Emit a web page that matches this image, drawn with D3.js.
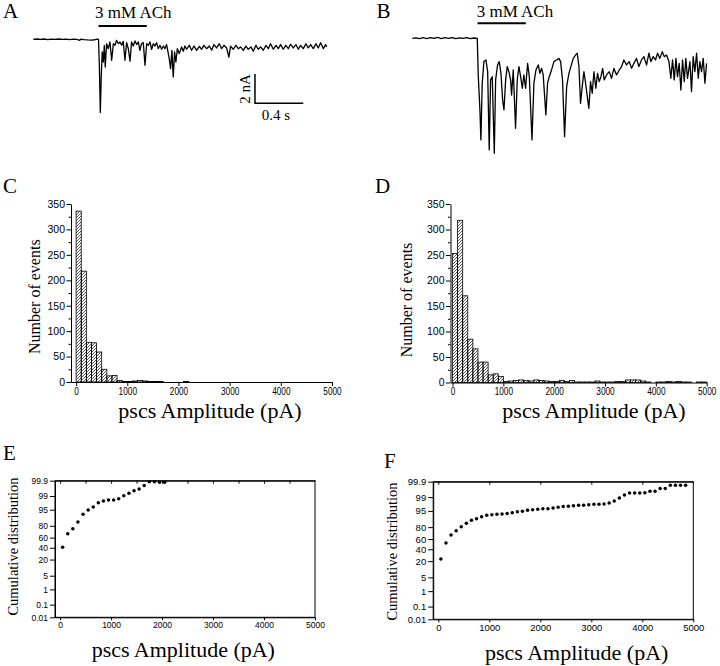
<!DOCTYPE html>
<html><head><meta charset="utf-8">
<script src="https://cdn.jsdelivr.net/npm/d3@7"></script>
<style>
body{margin:0;background:#fff;}
svg{display:block;}
</style></head>
<body><svg id="fig" width="720" height="666"></svg>
<script>
// ---------- DATA ----------
// Whole-cell current traces: [time (s), current (nA)]
const traceA = [[0,0],[0.03,0.02],[0.06,-0.01],[0.09,0.02],[0.12,-0.02],[0.15,0.01],[0.18,-0.01],[0.21,0.02],[0.24,-0.01],[0.27,0.01],[0.3,-0.02],[0.33,0.01],[0.36,-0.01],[0.385,-0.08],[0.39,0.01],[0.42,-0.02],[0.45,-0.04],[0.48,-0.05],[0.51,-0.03],[0.53,0.02],[0.54,0.0],
[0.547,-1.77],[0.555,-5.0],[0.563,-2.46],[0.571,-0.86],[0.58,-1.55],[0.588,-0.41],[0.596,-1.89],[0.607,-0.3],[0.621,-0.64],[0.635,-0.18],[0.649,-1.43],[0.663,-0.3],[0.676,-0.41],[0.69,-0.07],[0.704,-0.3],[0.718,-0.18],[0.732,-0.41],[0.745,-0.14],[0.759,-1.43],[0.773,-0.23],[0.787,-0.64],[0.801,-1.5],[0.814,-0.18],[0.828,-0.46],[0.842,-0.11],[0.856,-0.36],[0.87,-0.18],[0.883,-0.75],[0.897,-0.3],[0.911,-0.23],[0.925,-1.77],[0.939,-0.3],[0.952,-0.41],[0.966,-0.18],[0.98,-0.68],[0.994,-0.3],[1.008,-0.46],[1.021,-0.23],[1.035,-0.64],[1.049,-0.41],[1.063,-0.68],[1.077,-0.46],[1.09,-0.64],[1.104,-0.36],[1.126,-1.32],[1.137,-2.0],[1.148,-0.75],[1.159,-2.57],[1.17,-0.86],[1.181,-1.55],[1.193,-0.64],[1.209,-0.98],[1.228,-0.52],[1.242,-0.82],[1.256,-0.46],[1.27,-0.68],[1.292,-0.41],[1.311,-0.75],[1.331,-0.46],[1.353,-0.75],[1.375,-0.48],[1.394,-0.68],[1.413,-0.41],[1.435,-0.64],[1.458,-0.46],[1.477,-0.75],[1.496,-0.36],[1.518,-0.59],[1.54,-0.3],[1.56,-0.64],[1.579,-0.41],[1.601,-0.59],[1.62,-1.21],[1.634,-0.46],[1.656,-0.68],[1.678,-0.41],[1.698,-0.64],[1.717,-0.52],[1.739,-0.75],[1.761,-0.46],[1.78,-0.68],[1.803,-0.52],[1.822,-0.82],[1.844,-0.41],[1.863,-0.68],[1.883,-0.52],[1.905,-0.75],[1.927,-0.41],[1.946,-0.64],[1.965,-0.3],[1.988,-0.68],[2.01,-0.41],[2.029,-0.64],[2.048,-0.36],[2.07,-0.68],[2.092,-0.41],[2.112,-0.64],[2.131,-0.34],[2.153,-0.59],[2.175,-0.36],[2.195,-0.68],[2.214,-0.41],[2.236,-0.64],[2.258,-0.3],[2.277,-0.59],[2.297,-0.36],[2.319,-0.64],[2.341,-0.3],[2.36,-0.59],[2.38,-0.23],[2.402,-0.64],[2.421,-0.36],[2.429,-0.52]];

const traceB = [[0,0],[0.03,0.03],[0.06,-0.02],[0.09,0.04],[0.12,-0.02],[0.15,0.05],[0.18,-0.01],[0.21,0.06],[0.24,-0.02],[0.27,0.04],[0.3,-0.01],[0.33,0.05],[0.36,-0.02],[0.39,0.03],[0.42,-0.01],[0.45,0.04],[0.48,-0.02],[0.51,0.02],[0.538,0.0],
[0.546,-2.5],[0.56,-4.89],[0.568,-6.94],[0.579,-3.07],[0.593,-1.59],[0.61,-1.48],[0.624,-2.28],[0.637,-7.62],[0.648,-2.84],[0.662,-2.62],[0.679,-7.85],[0.69,-2.84],[0.706,-1.82],[0.72,-1.59],[0.734,-2.39],[0.748,-4.21],[0.759,-4.89],[0.773,-2.84],[0.786,-1.93],[0.8,-2.28],[0.814,-2.84],[0.822,-3.87],[0.836,-2.16],[0.855,-6.14],[0.869,-2.84],[0.883,-1.93],[0.897,-2.62],[0.911,-3.41],[0.924,-2.5],[0.938,-3.41],[0.955,-1.71],[0.969,-2.62],[0.991,-6.94],[1.007,-3.07],[1.024,-2.16],[1.043,-1.82],[1.057,-2.39],[1.071,-2.05],[1.084,-2.5],[1.106,-5.23],[1.12,-3.07],[1.134,-2.62],[1.153,-2.16],[1.173,-1.59],[1.195,-1.48],[1.214,-1.37],[1.228,-1.59],[1.244,-2.84],[1.261,-6.71],[1.278,-3.3],[1.297,-2.39],[1.313,-1.93],[1.333,-1.37],[1.352,-1.14],[1.366,-1.02],[1.38,-1.93],[1.393,-4.44],[1.407,-3.3],[1.421,-2.28],[1.435,-3.07],[1.449,-3.98],[1.462,-4.78],[1.476,-2.96],[1.49,-3.75],[1.504,-2.28],[1.52,-3.41],[1.534,-2.39],[1.548,-2.96],[1.562,-2.62],[1.576,-2.05],[1.589,-2.84],[1.609,-2.5],[1.631,-2.28],[1.65,-2.73],[1.669,-2.05],[1.691,-2.5],[1.714,-2.16],[1.733,-1.93],[1.752,-1.48],[1.774,-1.82],[1.796,-1.59],[1.816,-2.05],[1.835,-1.71],[1.857,-1.37],[1.876,-1.93],[1.898,-1.48],[1.918,-1.25],[1.94,-1.82],[1.959,-1.02],[1.976,-1.59],[1.995,-1.25],[2.014,-1.48],[2.031,-1.02],[2.05,-1.37],[2.07,-0.91],[2.086,-1.25],[2.105,-1.14],[2.125,-1.59],[2.141,-2.73],[2.155,-1.48],[2.169,-2.84],[2.183,-1.37],[2.196,-2.62],[2.21,-1.71],[2.224,-3.53],[2.238,-1.48],[2.252,-2.96],[2.265,-1.37],[2.279,-2.73],[2.299,-1.59],[2.312,-3.64],[2.326,-1.25],[2.34,-2.28],[2.354,-1.02],[2.368,-2.73],[2.381,-1.59],[2.395,-2.28],[2.409,-1.37],[2.423,-3.07],[2.437,-1.71]];

// ACh application window (s)
const achWindow = [0.54, 0.94];
// scale bar: origin time (s), origin current (nA), lengths
const scaleBarOrigin = [1.836, -4.37];
const scaleBarLen = [0.4, 2];

// Amplitude histograms: bin starts (pA), width 100 pA
const ampBins = [0,100,200,300,400,500,600,700,800,900,1000,1100,1200,1300,1400,1500,1600,1700,1800,1900,2000,2100,2200,2300,2400,2500,2600,2700,2800,2900,3000,3100,3200,3300,3400,3500,3600,3700,3800,3900,4000,4100,4200,4300,4400,4500,4600,4700,4800,4900];
const binWidth = 100;
const countsC = [336,218,78,77,59,25,12,13,3,1,1,2,3,2,1,1,1,0,0,0,0,1,0,0,0,0,0,0,0,0,0,0,0,0,0,0,0,0,0,0,0,0,0,0,0,0,0,0,0,0];
const countsD = [253,318,170,85,66,40,40,15,17,12,2,3,4,5,4,3,5,4,3,2,2,4,2,4,1,1,1,1,3,1,1,1,2,2,5,5,5,3,1,0,1,1,2,1,2,1,1,0,1,1];

// Cumulative distributions (%)
const cumAmpE = [50,150,250,350,450,550,650,750,850,950,1050,1150,1250,1350,1450,1550,1650,1750,1850,1950,2050];
const cumE = [40.9,67.3,75.7,84.9,92.2,94.8,96.2,97.7,98.1,98.33,98.33,98.58,99.04,99.31,99.52,99.63,99.78,99.88,99.88,99.87,99.87];
const cumAmpF = [50,150,250,350,450,550,650,750,850,950,1050,1150,1250,1350,1450,1550,1650,1750,1850,1950,2050,2150,2250,2350,2450,2550,2650,2750,2850,2950,3050,3150,3250,3350,3450,3550,3650,3750,3850,3950,4050,4150,4250,4350,4450,4550,4650,4750,4850];
const cumF = [23.1,52.2,67.4,74.7,80.6,84.9,88.1,89.6,91.3,92.3,92.7,93.0,93.2,93.6,94.0,94.6,94.8,95.3,95.6,95.8,96.0,96.0,96.3,96.6,96.9,97.0,97.1,97.3,97.3,97.45,97.56,97.56,97.65,97.9,98.36,98.88,99.25,99.43,99.43,99.43,99.45,99.55,99.55,99.71,99.71,99.82,99.82,99.82,99.82];

// axis tick labels
const countTicks = [0,50,100,150,200,250,300,350];
const ampTicks = [0,1000,2000,3000,4000,5000];
const probTicks = [0.01,0.1,1,5,20,40,60,80,95,99,99.9];

// ---------- helpers ----------
const SERIF = "'Liberation Serif', Tinos, 'Times New Roman', Times, 'DejaVu Serif', serif";
const SANS = "'Liberation Sans', Arimo, Arial, 'DejaVu Sans', sans-serif";
function probit(p){
  const a=[-3.969683028665376e+01,2.209460984245205e+02,-2.759285104469687e+02,1.383577518672690e+02,-3.066479806614716e+01,2.506628277459239e+00];
  const b=[-5.447609879822406e+01,1.615858368580409e+02,-1.556989798598866e+02,6.680131188771972e+01,-1.328068155288572e+01];
  const c=[-7.784894002430293e-03,-3.223964580411365e-01,-2.400758277161838e+00,-2.549732539343734e+00,4.374664141464968e+00,2.938163982698783e+00];
  const d=[7.784695709041462e-03,3.224671290700398e-01,2.445134137142996e+00,3.754408661907416e+00];
  const pl=0.02425, ph=1-pl; let q,r;
  if(p<pl){q=Math.sqrt(-2*Math.log(p));return (((((c[0]*q+c[1])*q+c[2])*q+c[3])*q+c[4])*q+c[5])/((((d[0]*q+d[1])*q+d[2])*q+d[3])*q+1);}
  if(p<=ph){q=p-0.5;r=q*q;return (((((a[0]*r+a[1])*r+a[2])*r+a[3])*r+a[4])*r+a[5])*q/(((((b[0]*r+b[1])*r+b[2])*r+b[3])*r+b[4])*r+1);}
  q=Math.sqrt(-2*Math.log(1-p));return -(((((c[0]*q+c[1])*q+c[2])*q+c[3])*q+c[4])*q+c[5])/((((d[0]*q+d[1])*q+d[2])*q+d[3])*q+1);
}

const svg = d3.select("#fig");
const defs = svg.append("defs");
defs.append("pattern").attr("id","hatch").attr("patternUnits","userSpaceOnUse")
  .attr("width",3).attr("height",3)
  .append("path").attr("d","M-0.75,0.75 L0.75,-0.75 M0,3 L3,0 M2.25,3.75 L3.75,2.25")
  .attr("stroke","#000").attr("stroke-width",0.65);

function styleAxis(g, fontSize, sx){
  g.attr("font-family", SANS);
  g.select(".domain").attr("stroke","#000").attr("stroke-width",1);
  g.selectAll(".tick line").attr("stroke","#000").attr("stroke-width",1);
  g.selectAll(".tick text").attr("fill","#000").attr("font-size",fontSize)
    .attr("font-family", SANS);
  if(sx) g.selectAll(".tick text").attr("transform",`scale(${sx},1)`);
}
function serifText(x,y,txt,size,anchor,rot){
  const t = svg.append("text").attr("font-family",SERIF).attr("fill","#000").attr("font-size",size)
    .attr("text-anchor",anchor||"start").text(txt);
  if(rot){ t.attr("transform",`translate(${x},${y}) rotate(${rot})`); }
  else t.attr("x",x).attr("y",y);
  return t;
}

// ---------- Panels A, B: traces ----------
function drawTrace(data, x, y){
  svg.append("path").datum(data)
    .attr("d", d3.line().x(d=>x(d[0])).y(d=>y(d[1])))
    .attr("fill","none").attr("stroke","#000").attr("stroke-width",1.3)
    .attr("stroke-linejoin","round");
}
const xA = d3.scaleLinear().domain([0,2.43]).range([33.3,326.7]);
const yA = d3.scaleLinear().domain([0,-5]).range([39.3,112.55]);
const xB = d3.scaleLinear().domain([0,2.437]).range([412.3,706.6]);
const yB = d3.scaleLinear().domain([0,-8]).range([38.3,155.5]);
drawTrace(traceA, xA, yA);
drawTrace(traceB, xB, yB);

// ACh bars + labels
svg.append("line").attr("x1",xA(achWindow[0])).attr("x2",xA(achWindow[1])).attr("y1",26).attr("y2",26)
  .attr("stroke","#000").attr("stroke-width",2);
svg.append("line").attr("x1",xB(achWindow[0])).attr("x2",xB(achWindow[1])).attr("y1",23.3).attr("y2",23.3)
  .attr("stroke","#000").attr("stroke-width",2);
serifText(95,17.7,"3 mM ACh",17);
serifText(476.7,16.7,"3 mM ACh",17);

// scale bar
const sb0x = xA(scaleBarOrigin[0]), sb0y = yA(scaleBarOrigin[1]);
svg.append("path")
  .attr("d",`M${sb0x},${yA(scaleBarOrigin[1]+scaleBarLen[1])} L${sb0x},${sb0y} L${xA(scaleBarOrigin[0]+scaleBarLen[0])},${sb0y}`)
  .attr("fill","none").attr("stroke","#000").attr("stroke-width",1.5);
serifText(250,89,"2 nA",15,"middle",-90);
serifText(276,120,"0.4 s",15,"middle");

// panel letters
serifText(3,17.5,"A",21);
serifText(376.5,18.3,"B",21);
serifText(3,193,"C",21);
serifText(375,193,"D",21);
serifText(3,460,"E",21);
serifText(384,468,"F",21);

// ---------- Panels C, D: histograms ----------
const fmt = d3.format("d");
function drawHist(counts, x, y, x0){
  const bars = ampBins.map((b,i)=>({b, c:counts[i]})).filter(d=>d.c>0);
  svg.append("g").selectAll("rect").data(bars).join("rect")
    .attr("x",d=>x(d.b)).attr("width",d=>x(d.b+binWidth)-x(d.b))
    .attr("y",d=>y(d.c)).attr("height",d=>y(0)-y(d.c))
    .attr("fill","url(#hatch)").attr("stroke","#000").attr("stroke-width",0.8);
  const gm = svg.append("g").attr("transform",`translate(${x0},0)`)
    .call(d3.axisLeft(y).tickValues(countTicks.slice(0,-1).map(v=>v+25)).tickSize(2.5).tickFormat(""));
  styleAxis(gm,10);
  gm.select(".domain").remove();
  const gy = svg.append("g").attr("transform",`translate(${x0},0)`)
    .call(d3.axisLeft(y).tickValues(countTicks).tickFormat(fmt).tickSize(4.5).tickSizeOuter(0).tickPadding(1.5));
  styleAxis(gy,10.5);
  const gx = svg.append("g").attr("transform",`translate(0,${y(0)})`)
    .call(d3.axisBottom(x).tickValues(ampTicks).tickFormat(fmt).tickSize(4).tickSizeOuter(0).tickPadding(1));
  styleAxis(gx,11,0.75);
}
const xC = d3.scaleLinear().domain([-100,5000]).range([71,332]);
const yC = d3.scaleLinear().domain([0,350]).range([382,204]);
drawHist(countsC, xC, yC, 71);
const xD = d3.scaleLinear().domain([-40,5000]).range([450.5,706.7]);
const yD = d3.scaleLinear().domain([0,350]).range([382.5,204]);
drawHist(countsD, xD, yD, 450.5);

serifText(40,296.7,"Number of events",16,"middle",-90);
serifText(412,300,"Number of events",16,"middle",-90);
serifText(210,418,"pscs Amplitude (pA)",22,"middle");
serifText(594,418,"pscs Amplitude (pA)",22,"middle");

// ---------- Panels E, F: cumulative distributions ----------
function drawCum(amps, cum, x, yz, minor, fs){
  const [l,r] = x.range(), [b,t] = yz.range();
  svg.append("rect").attr("x",l).attr("y",t).attr("width",r-l).attr("height",b-t)
    .attr("fill","none").attr("stroke","#000").attr("stroke-width",1);
  const gy = svg.append("g").attr("transform",`translate(${l},0)`)
    .call(d3.axisLeft(yz).tickValues(probTicks.map(p=>probit(p/100))).tickFormat((d,i)=>probTicks[i])
      .tickSize(5).tickSizeOuter(0).tickPadding(2));
  styleAxis(gy,fs);
  const gx = svg.append("g").attr("transform",`translate(0,${b})`)
    .call(d3.axisBottom(x).tickValues(ampTicks).tickFormat(fmt).tickSize(3).tickSizeOuter(0).tickPadding(1.5));
  styleAxis(gx,fs);
  const topTicks = minor ? [0,500,1000,1500,2000,2500,3000,3500,4000,4500] : [0,1000,2000,3000,4000];
  const gt = svg.append("g").attr("transform",`translate(0,${t})`)
    .call(d3.axisTop(x).tickValues(topTicks).tickSize(-3).tickSizeOuter(0).tickFormat(""));
  styleAxis(gt,fs);
  svg.append("g").selectAll("circle").data(amps.map((a,i)=>[a,cum[i]])).join("circle")
    .attr("cx",d=>x(d[0])).attr("cy",d=>yz(probit(d[1]/100))).attr("r",1.75).attr("fill","#000");
}
const xE = d3.scaleLinear().domain([-100,5000]).range([55,315]);
const yE = d3.scaleLinear().domain([probit(0.0001),probit(0.999)]).range([617.3,480.7]);
drawCum(cumAmpE, cumE, xE, yE, true, 8.5);
const xF = d3.scaleLinear().domain([-100,5000]).range([433.2,693.3]);
const yF = d3.scaleLinear().domain([probit(0.0001),probit(0.999)]).range([619.3,481.7]);
drawCum(cumAmpF, cumF, xF, yF, false, 9.5);

serifText(18,546.5,"Cumulative distribution",14.5,"middle",-90);
serifText(396.5,551.5,"Cumulative distribution",14.5,"middle",-90);
serifText(183.3,656.7,"pscs Amplitude (pA)",22,"middle");
serifText(576.7,660,"pscs Amplitude (pA)",22,"middle");
</script></body></html>
